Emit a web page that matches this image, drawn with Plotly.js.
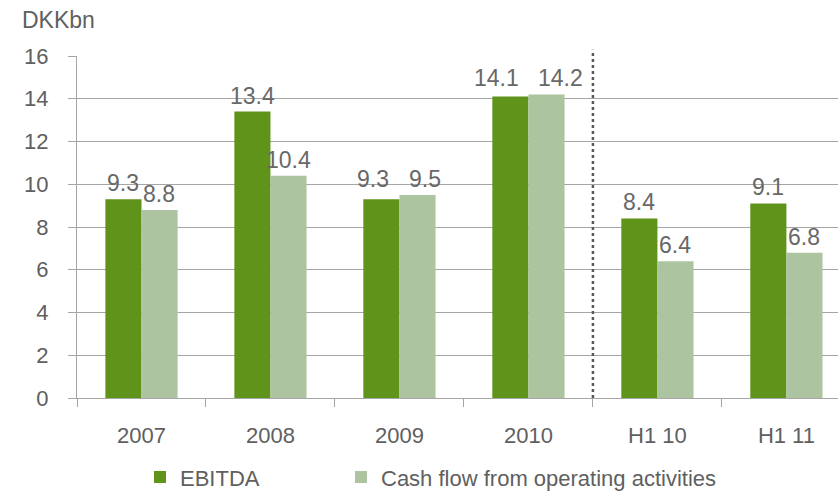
<!DOCTYPE html>
<html><head><meta charset="utf-8">
<script src="https://cdn.plot.ly/plotly-3.0.1.min.js"></script>
<style>html,body{margin:0;padding:0;background:#fff}</style>
</head><body><div id="chart" style="width:838px;height:492px"></div>
<script>
const categories = ["2007", "2008", "2009", "2010", "H1 10", "H1 11"];
const ebitda = [9.3, 13.4, 9.3, 14.1, 8.4, 9.1];
const cashFlow = [8.8, 10.4, 9.5, 14.2, 6.4, 6.8];
const seriesNames = ["EBITDA", "Cash flow from operating activities"];
const yTicks = [0, 2, 4, 6, 8, 10, 12, 14, 16];

const font = {family: "Liberation Sans, Arial, sans-serif", size: 22, color: "#606060"};
const labelSize = 23;
const labelFont = {family: "Liberation Sans, Arial, sans-serif", size: labelSize, color: "#686868"};
const traces = [
  {type: "bar", name: seriesNames[0], x: categories, y: ebitda, marker: {color: "#5f9319"},
   legend: "legend", hoverinfo: "skip"},
  {type: "bar", name: seriesNames[1], x: categories, y: cashFlow, marker: {color: "#adc4a1"},
   legend: "legend2", hoverinfo: "skip"}
];
// label placement: avoid collisions between the two labels of a group
const halfBar = 18, pxPerUnit = 342 / 16;
const textW = s => s.split("").reduce((w, ch) => w + (ch === "." ? 0.278 : 0.556), 0) * labelSize;
const labelAnn = [];
categories.forEach((c, i) => {
  const t1 = ebitda[i].toFixed(1), t2 = cashFlow[i].toFixed(1);
  let y1 = ebitda[i], y2 = cashFlow[i], extra = 0;
  const needed = (textW(t1) + textW(t2)) / 2 + 20 - 2 * halfBar;
  if (Math.abs(y1 - y2) * pxPerUnit < 8 && needed > 0) {
    extra = needed / 2;
    y1 = y2 = Math.max(y1, y2);
  }
  labelAnn.push({x: i, y: y1, text: t1, xref: "x", yref: "y", showarrow: false,
    xanchor: "center", yanchor: "middle", xshift: -halfBar - extra, yshift: 16, font: labelFont});
  labelAnn.push({x: i, y: y2, text: t2, xref: "x", yref: "y", showarrow: false,
    xanchor: "center", yanchor: "middle", xshift: halfBar + extra, yshift: 16, font: labelFont});
});
const legendBase = {orientation: "h", xref: "container", yref: "container", y: 0.03, yanchor: "middle",
  xanchor: "left", font: font, bgcolor: "rgba(0,0,0,0)", itemwidth: 30};
const layout = {
  width: 838, height: 492,
  margin: {l: 77, r: 0, t: 56, b: 94},
  paper_bgcolor: "#fff", plot_bgcolor: "#fff",
  font: font,
  barmode: "group", bargap: 0.44, bargroupgap: 0,
  showlegend: true,
  legend: Object.assign({}, legendBase, {x: 140 / 838}),
  legend2: Object.assign({}, legendBase, {x: 341 / 838}),
  xaxis: {type: "category", range: [-0.5, 5.4], showline: true, linecolor: "#a6a6a6", linewidth: 1,
          ticks: "outside", tickson: "boundaries", ticklen: 8, tickcolor: "#a6a6a6",
          showgrid: false, tickfont: font, ticklabelstandoff: 18, zeroline: false},
  yaxis: {range: [0, 16], tickvals: yTicks, showline: true, linecolor: "#a6a6a6", linewidth: 1,
          ticks: "outside", ticklen: 8, tickcolor: "#a6a6a6", gridcolor: "#a6a6a6", gridwidth: 1,
          zeroline: false, tickfont: font, ticklabelstandoff: 15},
  shapes: [{type: "line", xref: "x", yref: "paper", x0: 3.5, x1: 3.5, y0: 0, y1: 1.018,
            line: {color: "#595959", width: 2.5, dash: "dot"}}],
  annotations: [{text: "DKKbn", xref: "paper", yref: "paper", x: -0.075, y: 1.105,
                 xanchor: "left", yanchor: "middle", showarrow: false,
                 font: {family: "Liberation Sans, Arial, sans-serif", size: 23, color: "#606060"}}].concat(labelAnn)
};
Plotly.newPlot("chart", traces, layout, {displayModeBar: false, staticPlot: true});
</script></body></html>
